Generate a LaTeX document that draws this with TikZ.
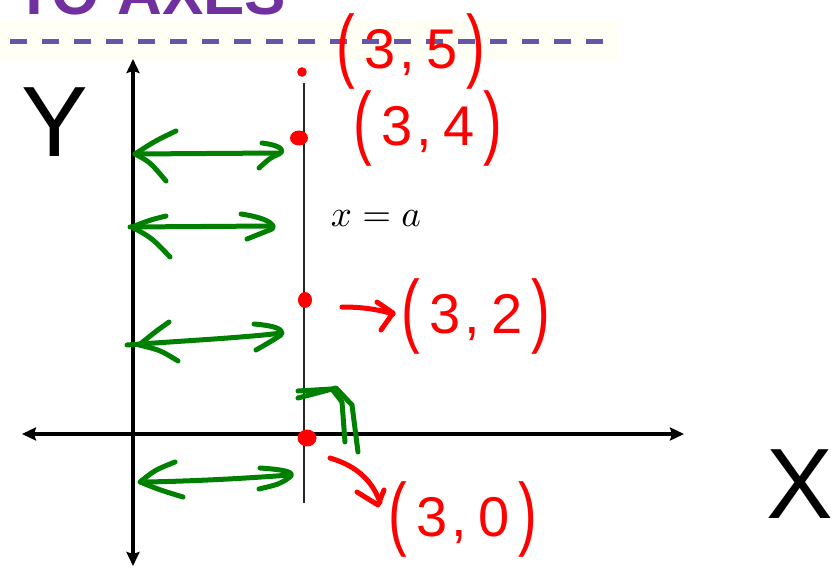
\documentclass[tikz,border=0pt]{standalone}
\usepackage{fontspec}
\setmainfont{Liberation Sans}
\usetikzlibrary{arrows.meta}
\definecolor{ttl}{RGB}{112,48,160}
\definecolor{dsh}{RGB}{100,86,170}
\definecolor{gpen}{RGB}{0,128,0}
\definecolor{rpen}{RGB}{255,0,0}
\definecolor{hilite}{RGB}{255,255,245}
\newcommand\hwpt[2]{\raisebox{-0.06em}{\scalebox{1}[1.45]{(}}\hspace{0.16em}#1\hspace{0.08em},\hspace{0.2em}#2\hspace{0.16em}\raisebox{-0.06em}{\scalebox{1}[1.45]{)}}}
\begin{document}
\begin{tikzpicture}[x=1pt,y=-1pt,
  axistip/.tip={Stealth[length=14pt,width=13pt,inset=2pt]},
  axisline/.style={line width=4pt,axistip-axistip},
  gstroke/.style={draw=gpen,line width=5pt,line cap=round,line join=round},
  rstroke/.style={draw=rpen,line width=5pt,line cap=round,line join=round},
  rdot/.style={fill=rpen,draw=none},
  redlab/.style={text=rpen,inner sep=0pt,font=\fontsize{56}{60}\selectfont},
  hwlab/.style={text=black,inner sep=0pt,font=\fontsize{100}{100}\selectfont}]
\useasboundingbox (0,0) rectangle (840,569);
% title band
\fill[hilite] (0,20) rectangle (618,62);
\node[anchor=base west,inner sep=0pt,text=ttl,font=\bfseries\fontsize{62}{70}\selectfont] (title) at (15,15) {TO AXES};
\draw[dsh,line width=5pt,dash pattern=on 17pt off 15pt] (10,42) -- (612,42);
% axes
\coordinate (ytop) at (133,59);
\coordinate (ybot) at (133,566);
\coordinate (xleft) at (22,434);
\coordinate (xright) at (684,434);
\draw[axisline] (ybot) -- (ytop);
\draw[axisline] (xleft) -- (xright);
% line x = a
\coordinate (lt) at (304,83);
\coordinate (lb) at (304,503);
\draw[line width=1.8pt,black!85] (lt) -- (lb);
\node[inner sep=0pt,anchor=base] (eq) at (376,227) {\scalebox{3.7}{$x = a$}};
% red points
\fill[rdot] (302,72) circle [radius=4.8pt];
\fill[rdot] (299,138) ellipse [x radius=9pt,y radius=7.5pt];
\fill[rdot] (305,300) ellipse [x radius=7pt,y radius=8pt];
\fill[rdot] (307,438) ellipse [x radius=9.5pt,y radius=8.5pt];
% red labels
\node[redlab] (p5) at (411,51) {\hwpt{3}{5}};
\node[redlab] (p4) at (428,128) {\hwpt{3}{4}};
\node[redlab] (p2) at (476,316) {\hwpt{3}{2}};
\node[redlab] (p0) at (463,519) {\hwpt{3}{0}};
% red arrows
\draw[rstroke] (342,307) .. controls (365,307) and (380,310) .. (393,314);
\draw[rstroke] (377,302) -- (393,313) -- (381,330);
\draw[rstroke] (330,458) .. controls (350,464) and (370,475) .. (380,502);
\draw[rstroke] (357,492) -- (378,505) -- (384,490);
% axis labels
\node[hwlab] (ylab) at (55,122) {Y};
\node[hwlab] (xlab) at (800,484) {X};
% green double arrows
\draw[gstroke] (135,154) -- (279,153);
\draw[gstroke] (176,131) .. controls (155,141) .. (135,154) .. controls (150,162) .. (166,181);
\draw[gstroke] (262,143) .. controls (285,146) and (284,152) .. (279,154) .. controls (270,158) .. (259,168);
%
\draw[gstroke] (130,227) -- (272,226);
\draw[gstroke] (166,216) .. controls (150,220) .. (132,227) .. controls (152,238) .. (170,257);
\draw[gstroke] (241,214) .. controls (275,219) and (275,228) .. (272,229) .. controls (262,233) .. (247,239);
%
\draw[gstroke] (127,345) .. controls (180,341) and (240,338) .. (282,333);
\draw[gstroke] (169,322) .. controls (155,332) .. (139,345) .. controls (160,350) .. (178,361);
\draw[gstroke] (254,324) .. controls (278,326) and (284,330) .. (281,335) .. controls (270,342) .. (256,350);
%
\draw[gstroke] (146,482) .. controls (200,481) and (250,478) .. (290,475);
\draw[gstroke] (175,462) .. controls (155,470) .. (140,482) .. controls (160,490) .. (183,497);
\draw[gstroke] (260,468) .. controls (290,470) and (294,473) .. (290,477) .. controls (280,484) .. (259,489);
% right-angle mark
\draw[gstroke] (298,398) -- (336,388) -- (352,405) -- (358,452);
\draw[gstroke] (298,391) -- (332,389) -- (342,402) -- (345,442);
\end{tikzpicture}
\end{document}
